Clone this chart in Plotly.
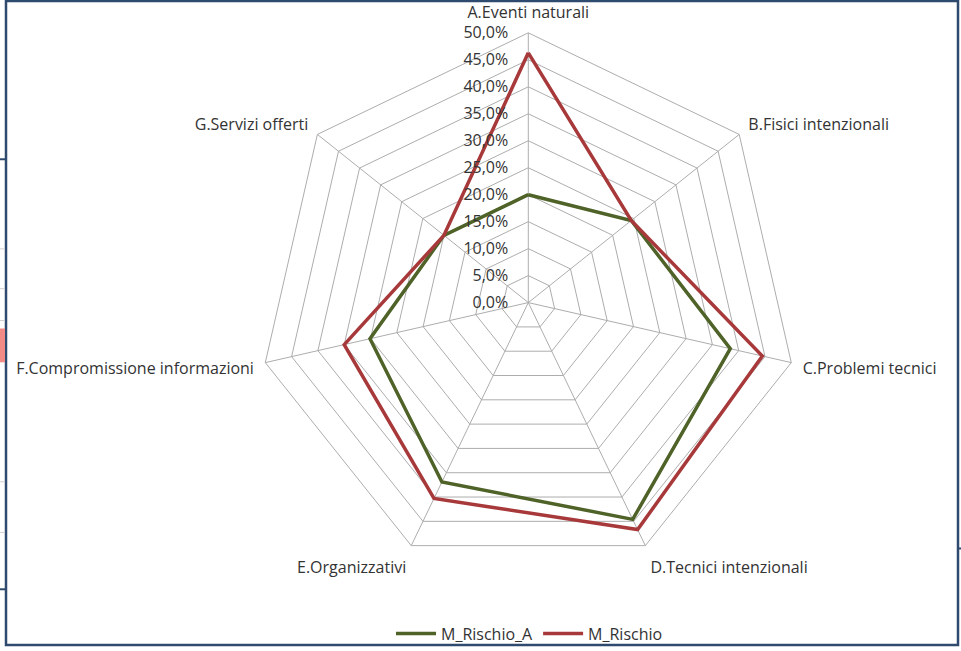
import plotly.graph_objects as go

# Risk categories (clockwise from the top)
categories = [
    "A.Eventi naturali",
    "B.Fisici intenzionali",
    "C.Problemi tecnici",
    "D.Tecnici intenzionali",
    "E.Organizzativi",
    "F.Compromissione informazioni",
    "G.Servizi offerti",
]

# Series values (fractions)
m_rischio_a = [0.200, 0.244, 0.384, 0.446, 0.369, 0.301, 0.200]
m_rischio = [0.463, 0.244, 0.445, 0.467, 0.403, 0.350, 0.200]

radial_ticks = [i * 0.05 for i in range(11)]

GREEN = "#4F6228"
RED = "#A8393A"
GRID = "#ADADAD"
TEXT = "#333333"
FRAME = "#2E4A6E"
FONT = "Open Sans, sans-serif"
CLEAR = "rgba(0,0,0,0)"


def closed(values):
    return values + values[:1]


fig = go.Figure()
fig.add_trace(go.Scatterpolar(
    r=closed(m_rischio_a), theta=closed(categories), mode="lines",
    name="M_Rischio_A", line=dict(color=GREEN, width=3.5),
))
fig.add_trace(go.Scatterpolar(
    r=closed(m_rischio), theta=closed(categories), mode="lines",
    name="M_Rischio", line=dict(color=RED, width=3.5),
))

W, H = 961, 651
cx, cy, rad = 528.3, 304.0, 271.0  # plot centre and outer radius in pixels


def px(x0, y0, x1, y1):
    """Pixel box -> paper coordinates."""
    return dict(xref="paper", yref="paper",
                x0=x0 / W, x1=x1 / W, y0=(H - y0) / H, y1=(H - y1) / H)


# Outer frame plus the small slivers of neighbouring window chrome at the edges
shapes = [
    dict(type="rect", line=dict(color=FRAME, width=2.5),
         fillcolor=CLEAR, **px(6, 648, 958, 1)),
    dict(type="rect", line=dict(width=0), fillcolor="#F28B86", **px(0, 330, 5, 364)),
    dict(type="line", line=dict(color=FRAME, width=2), **px(0, 160, 5, 160)),
    dict(type="line", line=dict(color=FRAME, width=2), **px(0, 592, 5, 592)),
    dict(type="line", line=dict(color=FRAME, width=2), **px(958, 551, 961, 551)),
]
for yy in [250, 290, 322, 484, 535]:
    shapes.append(dict(type="line", line=dict(color="#D0D0D0", width=1),
                       **px(0, yy, 5, yy)))

fig.update_layout(
    width=W, height=H,
    margin=dict(l=0, r=0, t=0, b=0),
    paper_bgcolor="white",
    separators=",.",
    font=dict(family=FONT, size=16, color=TEXT),
    polar=dict(
        domain=dict(
            x=[(cx - rad) / W, (cx + rad) / W],
            y=[(H - cy - rad) / H, (H - cy + rad) / H],
        ),
        gridshape="linear",
        bgcolor="white",
        radialaxis=dict(
            range=[0, 0.5], tickvals=radial_ticks, tickformat=".1%",
            angle=90, tickangle=90, side="counterclockwise",
            showline=False, ticks="outside", ticklen=14, tickcolor=CLEAR,
            gridcolor=GRID, gridwidth=1,
            tickfont=dict(family=FONT, size=16, color=TEXT),
        ),
        angularaxis=dict(
            direction="clockwise", rotation=90,
            showline=True, linecolor=GRID, linewidth=1,
            gridcolor=GRID, gridwidth=1,
            ticks="outside", ticklen=8, tickcolor=CLEAR,
            tickfont=dict(family=FONT, size=16, color=TEXT),
        ),
    ),
    showlegend=True,
    legend=dict(
        orientation="h", x=0.551, y=-0.004, xanchor="center", yanchor="bottom",
        font=dict(family=FONT, size=16, color=TEXT), itemwidth=40,
        bgcolor=CLEAR,
    ),
    shapes=shapes,
)

fig.write_html("out.html")
